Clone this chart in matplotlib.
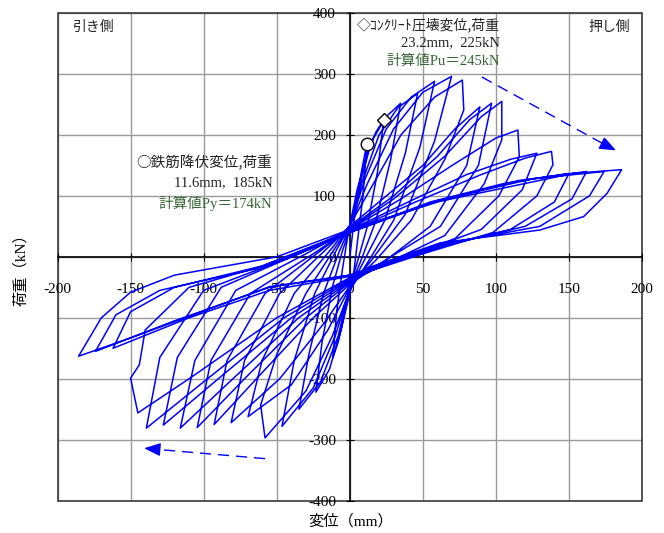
import matplotlib
matplotlib.use("Agg")
import matplotlib.pyplot as plt
from matplotlib.patches import Rectangle

plt.rcParams["axes.unicode_minus"] = False

JP = ["Liberation Serif", "Noto Sans CJK JP", "DejaVu Sans"]
JP_ONLY = ["Noto Sans CJK JP", "DejaVu Sans"]

# load-displacement path, one list of (mm, kN) vertices per cycle
cycles = [
    [(0, 0), (4, 80), (8, 140), (11.6, 185), (9, 100), (5, 20), (2, -40), (-4, -100), (-8, -140),
     (-11.6, -165), (-9, -90), (-5, -20), (-1, 40)],
    [(-1, 40), (5, 110), (12, 170), (18, 205), (23.2, 225), (19, 140), (12, 50), (5, -10), (0, -50),
     (-6, -120), (-14, -185), (-23.2, -222), (-19, -140), (-12, -50), (-5, 10), (0, 45)],
    [(0, 45), (7, 120), (15, 190), (25, 230), (34.8, 252), (28, 160), (18, 60), (7, -10), (0, -50),
     (-8, -130), (-20, -205), (-34.8, -250), (-28, -160), (-18, -60), (-7, 10), (0, 48)],
    [(0, 48), (8, 120), (20, 200), (33, 245), (46.4, 268), (38, 170), (24, 60), (9, -10), (0, -52),
     (-10, -130), (-25, -215), (-46.4, -278), (-38, -170), (-24, -60), (-9, 12), (0, 50)],
    [(0, 50), (10, 125), (25, 210), (42, 262), (58, 288), (48, 180), (30, 60), (12, -10), (0, -55),
     (-12, -130), (-30, -220), (-50, -275), (-58, -297), (-61, -243), (-50, -160), (-30, -60),
     (-10, 15), (0, 50)],
    [(0, 50), (12, 120), (30, 210), (50, 270), (69.6, 296), (58, 190), (38, 70), (15, -5), (0, -50),
     (-15, -120), (-40, -210), (-69.6, -262), (-60, -170), (-38, -60), (-12, 15), (0, 52)],
    [(0, 52), (15, 115), (35, 200), (58, 262), (77, 290), (78, 241), (65, 160), (42, 60), (18, -5),
     (0, -48), (-18, -110), (-48, -200), (-81.2, -272), (-72, -170), (-48, -60), (-15, 15), (0, 50)],
    [(0, 50), (25, 100), (50, 150), (72, 210), (89, 246), (80, 150), (55, 50), (25, -5), (0, -45),
     (-25, -100), (-60, -190), (-92.8, -275), (-84, -170), (-58, -60), (-20, 10), (0, 48)],
    [(0, 48), (30, 100), (60, 165), (82, 225), (97, 252), (88, 150), (62, 50), (28, 0), (0, -42),
     (-30, -100), (-70, -195), (-104.4, -280), (-95, -170), (-68, -60), (-25, 5), (0, 46)],
    [(0, 46), (30, 95), (65, 165), (90, 230), (104, 255), (104, 192), (92, 120), (65, 35), (30, -5),
     (0, -40), (-35, -100), (-80, -200), (-116, -281), (-106, -170), (-78, -55), (-30, 5), (0, 45)],
    [(0, 45), (35, 95), (70, 150), (100, 195), (115, 208), (116, 164), (102, 100), (72, 30), (32, -5),
     (0, -38), (-40, -100), (-90, -200), (-127.6, -276), (-118, -165), (-88, -50), (-35, 5), (0, 44)],
    [(0, 44), (40, 90), (80, 135), (110, 160), (128, 170), (118, 110), (90, 45), (45, 5), (0, -36),
     (-45, -100), (-100, -205), (-139.2, -281), (-130, -165), (-100, -55), (-40, 0), (0, 42)],
    [(0, 42), (45, 90), (90, 135), (120, 162), (138, 173), (139, 151), (128, 100), (98, 40), (50, 5),
     (0, -34), (-50, -100), (-110, -200), (-145, -256), (-150, -199), (-144, -177), (-140, -120),
     (-110, -50), (-45, -5), (0, 40)],
    [(0, 40), (55, 90), (105, 120), (150, 137), (140, 90), (110, 45), (60, 15), (0, -32), (-55, -55),
     (-110, -100), (-162, -150), (-150, -90), (-120, -50), (-60, -15), (0, 40)],
    [(0, 40), (58, 90), (115, 125), (162, 140), (152, 95), (120, 50), (62, 18), (0, -30), (-55, -50),
     (-120, -105), (-174, -155), (-160, -95), (-130, -55), (-65, -20), (0, 42)],
    [(0, 42), (60, 92), (125, 128), (174, 140), (164, 100), (130, 50), (62, 20), (0, -30), (-55, -49),
     (-150, -133), (-185.6, -163), (-170, -100), (-150, -58), (-120, -30), (-50, 0), (0, 45)],
    [(0, 45), (61.6, 91), (153, 137), (186, 143), (176, 104), (160, 66), (130, 44), (62, 23), (10, -20)],
]

yield_pt = (11.6, 185)
crush_pt = (23.2, 225)

x_ticks = [-200, -150, -100, -50, 0, 50, 100, 150, 200]
y_ticks = [-400, -300, -200, -100, 0, 100, 200, 300, 400]

fig = plt.figure(figsize=(6.64, 5.33), dpi=100)
ax = fig.add_axes([0.0866, 0.0606, 0.8804, 0.915])
ax.set_xlim(-200, 200)
ax.set_ylim(-400, 400)

for x in x_ticks:
    ax.axvline(x, color="#9a9a9a", lw=1.0, zorder=0)
for y in y_ticks:
    ax.axhline(y, color="#9a9a9a", lw=1.0, zorder=0)

# spines through the origin, frame drawn separately
ax.spines["left"].set_position(("data", 0))
ax.spines["bottom"].set_position(("data", 0))
ax.spines["top"].set_visible(False)
ax.spines["right"].set_visible(False)
for s in ("left", "bottom"):
    ax.spines[s].set_color("black")
    ax.spines[s].set_linewidth(1.2)
    ax.spines[s].set_zorder(1)
ax.add_patch(Rectangle((0, 0), 1, 1, transform=ax.transAxes, fill=False,
                       ec="#3a3a3a", lw=1.2, zorder=1, clip_on=False))

ax.set_xticks(x_ticks)
ax.set_yticks(y_ticks)
ax.tick_params(axis="x", direction="inout", length=6, pad=16, labelsize=11)
ax.tick_params(axis="y", direction="inout", length=6, pad=7, labelsize=11)
for lab in ax.get_xticklabels() + ax.get_yticklabels():
    lab.set_family("Liberation Serif")

xs, ys = [], []
for c in cycles:
    for px, py in c:
        xs.append(px)
        ys.append(py)
ax.plot(xs, ys, color="#0000ff", lw=1.1, zorder=3)

ax.plot(*yield_pt, marker="o", ms=9, mfc="white", mec="black", mew=1.0, zorder=5)
ax.plot(*crush_pt, marker="D", ms=7.5, mfc="white", mec="black", mew=1.0, zorder=5)

# dashed direction arrows
ax.plot([90.4, 176], [295, 182], color="#0000ff", lw=1.0, ls=(0, (8, 5)), zorder=4)
ax.annotate("", xy=(183.8, 172.6), xytext=(172, 187),
            arrowprops=dict(arrowstyle="-|>,head_length=1.0,head_width=0.4",
                            color="#0000ff", lw=1.0))
ax.plot([-58, -133], [-331, -315.6], color="#0000ff", lw=1.0, ls=(0, (8, 5)), zorder=4)
ax.annotate("", xy=(-142.7, -313.6), xytext=(-130, -316),
            arrowprops=dict(arrowstyle="-|>,head_length=1.0,head_width=0.4",
                            color="#0000ff", lw=1.0))

green = "#336633"
ax.text(-190, 377, "引き側", family=JP, fontsize=10, color="#222222", va="center")
ax.text(163, 377, "押し側", family=JP, fontsize=10, color="#222222", va="center")
ax.text(4.5, 380, "◇ｺﾝｸﾘｰﾄ圧壊変位,荷重", family=JP_ONLY, fontsize=10, color="#222222", va="center")
ax.text(102.5, 352, "23.2mm,  225kN", family=JP, fontsize=10.5, color="#222222", va="center", ha="right")
ax.text(102.5, 321, "計算値Pu＝245kN", family=JP, fontsize=10.5, color=green, va="center", ha="right")
ax.text(-53, 154, "○鉄筋降伏変位,荷重", family=JP_ONLY, fontsize=10.5, color="#222222", va="center", ha="right")
ax.text(-53, 121, "11.6mm,  185kN", family=JP, fontsize=10.5, color="#222222", va="center", ha="right")
ax.text(-53, 88, "計算値Py＝174kN", family=JP, fontsize=10.5, color=green, va="center", ha="right")

fig.text(0.5274, 0.022, "変位（mm）", family=JP, fontsize=11, ha="center", va="center")
fig.text(0.032, 0.50, "荷重（kN）", family=JP, fontsize=11, ha="center", va="center", rotation=90)

fig.savefig("out.png", dpi=100)
